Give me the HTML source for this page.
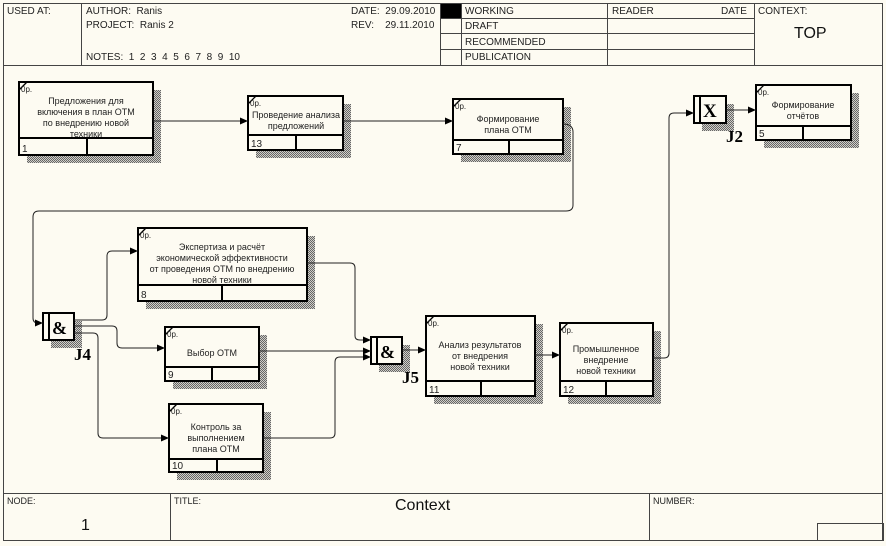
<!DOCTYPE html>
<html><head><meta charset="utf-8"><style>
html,body{margin:0;padding:0;background:#fdfbf2;}
svg{display:block;font-family:"Liberation Sans",sans-serif;}
text{white-space:pre;}
</style></head><body>
<svg width="886" height="546" viewBox="0 0 886 546" xmlns="http://www.w3.org/2000/svg">
<defs>
<pattern id="h" width="2" height="2" patternUnits="userSpaceOnUse"><rect width="2" height="2" fill="#d0cec8"/><rect width="1" height="1" fill="#666"/><rect x="1" y="1" width="1" height="1" fill="#666"/></pattern>
<marker id="a" markerWidth="8" markerHeight="8" refX="8" refY="4" orient="auto" markerUnits="userSpaceOnUse"><path d="M0,0.5 L8,4 L0,7.5 z" fill="#000"/></marker>
</defs>
<rect x="0" y="0" width="886" height="546" fill="#fdfbf2"/>
<g fill="none" stroke="#444" stroke-width="1">
<rect x="3.5" y="3.5" width="879" height="537"/>
<line x1="3" y1="65.5" x2="883" y2="65.5"/>
<line x1="81.5" y1="3" x2="81.5" y2="65"/>
<line x1="440.5" y1="3" x2="440.5" y2="65"/>
<line x1="461.5" y1="3" x2="461.5" y2="65"/>
<line x1="607.5" y1="3" x2="607.5" y2="65"/>
<line x1="754.5" y1="3" x2="754.5" y2="65"/>
<line x1="441" y1="18.5" x2="754" y2="18.5"/>
<line x1="441" y1="33.5" x2="754" y2="33.5"/>
<line x1="441" y1="49.5" x2="754" y2="49.5"/>
<line x1="3" y1="493.5" x2="883" y2="493.5"/>
<line x1="170.5" y1="493" x2="170.5" y2="541"/>
<line x1="649.5" y1="493" x2="649.5" y2="541"/>
<rect x="817.5" y="523.5" width="66" height="17"/>
</g>
<rect x="441" y="4" width="20" height="14" fill="#000"/>
<g font-size="10" fill="#222">
<text x="7" y="14">USED AT:</text>
<text x="86" y="14">AUTHOR:  Ranis</text>
<text x="86" y="28">PROJECT:  Ranis 2</text>
<text x="86" y="60">NOTES:  1  2  3  4  5  6  7  8  9  10</text>
<text x="351" y="14">DATE:  29.09.2010</text>
<text x="351" y="28">REV:    29.11.2010</text>
<text x="465" y="14">WORKING</text>
<text x="465" y="29">DRAFT</text>
<text x="465" y="45">RECOMMENDED</text>
<text x="465" y="60">PUBLICATION</text>
<text x="612" y="14">READER</text>
<text x="721" y="14">DATE</text>
<text x="758" y="14">CONTEXT:</text>
<text x="7" y="504" font-size="9">NODE:</text>
<text x="174" y="504" font-size="9">TITLE:</text>
<text x="653" y="504" font-size="9">NUMBER:</text>
</g>
<text x="794" y="38" font-size="16" fill="#111">TOP</text>
<text x="395" y="510" font-size="16" fill="#111">Context</text>
<text x="81" y="530" font-size="16" fill="#111">1</text>

<g fill="url(#h)">
<rect x="27" y="90" width="134" height="73"/>
<rect x="256" y="104" width="95" height="54"/>
<rect x="461" y="107" width="110" height="55"/>
<rect x="764" y="93" width="95" height="55"/>
<rect x="146" y="236" width="169" height="73"/>
<rect x="173" y="335" width="94" height="54"/>
<rect x="177" y="412" width="94" height="68"/>
<rect x="434" y="324" width="109" height="80"/>
<rect x="568" y="331" width="93" height="73"/>
<rect x="51" y="321" width="31" height="27"/>
<rect x="379" y="345" width="31" height="27"/>
<rect x="702" y="104" width="32" height="27"/>
</g>

<g fill="#fdfbf2" stroke="#000" stroke-width="2">
<rect x="19" y="82" width="134" height="73"/>
<rect x="248" y="96" width="95" height="54"/>
<rect x="453" y="99" width="110" height="55"/>
<rect x="756" y="85" width="95" height="55"/>
<rect x="138" y="228" width="169" height="73"/>
<rect x="165" y="327" width="94" height="54"/>
<rect x="169" y="404" width="94" height="68"/>
<rect x="426" y="316" width="109" height="80"/>
<rect x="560" y="323" width="93" height="73"/>
</g>
<g stroke="#000" stroke-width="2">
<line x1="19" y1="138" x2="153" y2="138"/><line x1="87" y1="138" x2="87" y2="155"/>
<line x1="248" y1="135" x2="343" y2="135"/><line x1="296" y1="135" x2="296" y2="150"/>
<line x1="453" y1="140" x2="563" y2="140"/><line x1="509" y1="140" x2="509" y2="154"/>
<line x1="756" y1="126" x2="851" y2="126"/><line x1="803" y1="126" x2="803" y2="140"/>
<line x1="138" y1="285" x2="307" y2="285"/><line x1="222" y1="285" x2="222" y2="301"/>
<line x1="165" y1="367" x2="259" y2="367"/><line x1="212" y1="367" x2="212" y2="381"/>
<line x1="169" y1="459" x2="263" y2="459"/><line x1="217" y1="459" x2="217" y2="472"/>
<line x1="426" y1="381" x2="535" y2="381"/><line x1="481" y1="381" x2="481" y2="396"/>
<line x1="560" y1="381" x2="653" y2="381"/><line x1="606" y1="381" x2="606" y2="396"/>
</g>
<g stroke="#000" stroke-width="1.3">
<line x1="19" y1="90" x2="27" y2="82"/><line x1="248" y1="104" x2="256" y2="96"/>
<line x1="453" y1="107" x2="461" y2="99"/><line x1="756" y1="93" x2="764" y2="85"/>
<line x1="138" y1="236" x2="146" y2="228"/><line x1="165" y1="335" x2="173" y2="327"/>
<line x1="169" y1="412" x2="177" y2="404"/><line x1="426" y1="324" x2="434" y2="316"/>
<line x1="560" y1="331" x2="568" y2="323"/>
</g>
<g font-size="8" fill="#222">
<text x="21" y="92">0p.</text><text x="250" y="106">0p.</text><text x="455" y="109">0p.</text>
<text x="758" y="95">0p.</text><text x="140" y="238">0p.</text><text x="167" y="337">0p.</text>
<text x="171" y="414">0p.</text><text x="428" y="326">0p.</text><text x="562" y="333">0p.</text>
</g>
<g font-size="9" fill="#222" text-anchor="middle">
<text x="86" y="104">Предложения для</text><text x="86" y="115">включения в план ОТМ</text><text x="86" y="126">по внедрению новой</text><text x="86" y="137">техники</text>
<text x="296" y="118">Проведение анализа</text><text x="296" y="129">предложений</text>
<text x="508" y="122">Формирование</text><text x="508" y="133">плана ОТМ</text>
<text x="803" y="108">Формирование</text><text x="803" y="119">отчётов</text>
<text x="222" y="250">Экспертиза и расчёт</text><text x="222" y="261">экономической эффективности</text><text x="222" y="272">от проведения ОТМ по внедрению</text><text x="222" y="283">новой техники</text>
<text x="212" y="356">Выбор ОТМ</text>
<text x="216" y="430">Контроль за</text><text x="216" y="441">выполнением</text><text x="216" y="452">плана ОТМ</text>
<text x="480" y="348">Анализ результатов</text><text x="480" y="359">от внедрения</text><text x="480" y="370">новой техники</text>
<text x="606" y="352">Промышленное</text><text x="606" y="363">внедрение</text><text x="606" y="374">новой техники</text>
</g>
<g font-size="10" fill="#222">
<text x="22" y="152">1</text><text x="251" y="147">13</text><text x="456" y="151">7</text>
<text x="759" y="137">5</text><text x="141" y="298">8</text><text x="168" y="378">9</text>
<text x="172" y="469">10</text><text x="429" y="393">11</text><text x="563" y="393">12</text>
</g>

<g fill="#fdfbf2" stroke="#000" stroke-width="2">
<rect x="43" y="313" width="31" height="27"/><line x1="49" y1="313" x2="49" y2="340"/>
<rect x="371" y="337" width="31" height="27"/><line x1="377" y1="337" x2="377" y2="364"/>
<rect x="694" y="96" width="32" height="27"/><line x1="700" y1="96" x2="700" y2="123"/>
</g>
<g font-family="Liberation Serif,serif" font-weight="bold" fill="#000">
<text x="52" y="334" font-size="18">&amp;</text>
<text x="380" y="358" font-size="18">&amp;</text>
<text x="703" y="117" font-size="19">X</text>
<text x="74" y="360" font-size="17">J4</text>
<text x="402" y="383" font-size="17">J5</text>
<text x="726" y="142" font-size="17">J2</text>
</g>

<g fill="none" stroke="#222" stroke-width="1" marker-end="url(#a)">
<path d="M153,121 H248"/>
<path d="M343,121 H453"/>
<path d="M563,124 Q573,124 573,132 V205 Q573,211 566,211 H39 Q33,211 33,217 V318 Q33,323 38,323 H43"/>
<path d="M74,320 H102 Q107,320 107,315 V256 Q107,251 112,251 H138"/>
<path d="M74,326 H112 Q117,326 117,331 V343 Q117,348 122,348 H165"/>
<path d="M74,333 H93 Q98,333 98,338 V433 Q98,438 103,438 H169"/>
<path d="M307,263 H350 Q355,263 355,268 V336 Q355,340 360,340 H371"/>
<path d="M259,351 H371"/>
<path d="M263,438 H330 Q335,438 335,433 V362 Q335,357 340,357 H371"/>
<path d="M402,350 H426"/>
<path d="M535,355 H560"/>
<path d="M653,358 H664 Q669,358 669,353 V118 Q669,113 674,113 H694"/>
<path d="M726,110 H756"/>
</g>
</svg>
</body></html>
